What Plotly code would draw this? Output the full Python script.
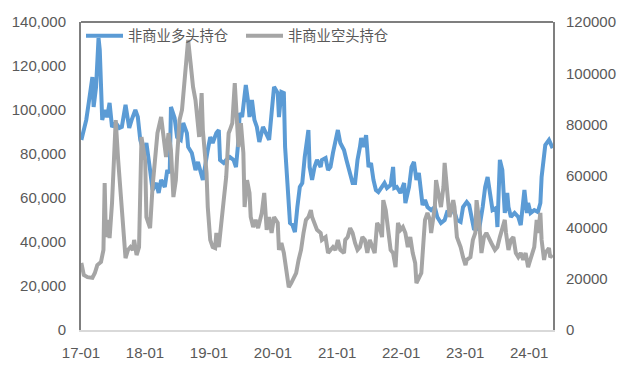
import pandas as pd
import plotly.graph_objects as go

# Weekly index (weeks since 2017-01-03) and positions
long_week = [0, 4, 6, 9, 10, 12, 14, 15, 17, 19,
             21, 23, 25, 28, 31, 33, 36, 39, 41, 44,
             46, 48, 51, 53, 56, 58, 61, 63, 65, 68,
             70, 72, 73, 76, 78, 81, 83, 86, 87, 90,
             93, 95, 99, 101, 103, 105, 107, 110, 112, 113,
             116, 118, 121, 124, 126, 128, 129, 131, 134, 136,
             137, 139, 141, 143, 145, 148, 150, 153, 155, 157,
             160, 161, 163, 165, 166, 168, 170, 172, 174, 176,
             178, 180, 182, 185, 186, 188, 190, 192, 195, 196,
             199, 201, 203, 205, 207, 209, 211, 214, 216, 218,
             221, 223, 225, 227, 228, 230, 232, 234, 236, 238,
             240, 242, 245, 247, 249, 252, 254, 255, 257, 260,
             263, 264, 267, 269, 271, 273, 275, 277, 278, 280,
             282, 285, 288, 290, 293, 296, 298, 301, 303, 306,
             309, 311, 314, 316, 318, 320, 322, 324, 327, 329,
             331, 333, 335, 338, 339, 341, 343, 345, 347, 348,
             350, 353, 356, 358, 360, 361, 363, 364, 366, 369,
             372, 374, 375, 377, 378, 381, 382, 384]
long_pos = [86400, 95500, 103200, 115000, 101400, 110500, 132700, 127300, 95500, 100000,
            96800, 103200, 92300, 94100, 91800, 92300, 102300, 91800, 95500, 100000,
            96800, 86400, 80500, 85000, 72700, 63600, 66800, 62300, 68200, 65000,
            72700, 71400, 101400, 96400, 87700, 86400, 94100, 89500, 83200, 80500,
            72700, 76400, 68200, 75900, 81800, 87700, 85000, 89500, 90900, 77300,
            75900, 77300, 78600, 77300, 74100, 86400, 98600, 96800, 111400, 103200,
            96800, 104500, 95500, 92300, 85500, 92300, 89500, 86400, 98600, 110500,
            107700, 96800, 108200, 107700, 83200, 65000, 48600, 47700, 44500, 55900,
            65000, 66800, 78600, 90900, 74100, 68200, 74100, 77300, 74100, 77300,
            78200, 72700, 74100, 80500, 85000, 90900, 85000, 81800, 77300, 72700,
            66800, 66800, 77300, 83200, 87300, 83200, 88600, 74100, 75900, 68200,
            63600, 62700, 65000, 66800, 64500, 65900, 74100, 64500, 65000, 62300,
            66800, 57700, 65000, 74100, 76400, 68200, 71400, 62300, 56800, 59100,
            55900, 54500, 55900, 51400, 48600, 50000, 53600, 53200, 55900, 50000,
            49100, 55900, 58200, 56800, 50000, 45500, 46800, 45500, 55900, 65000,
            69500, 62300, 54500, 55500, 46800, 77300, 72700, 53200, 62300, 55900,
            51400, 53200, 51400, 47700, 59100, 63600, 53200, 57700, 53200, 54500,
            53600, 57700, 69500, 80500, 84100, 86400, 85000, 82700]

short_week = [0, 2, 5, 9, 11, 13, 16, 18, 19, 20,
              22, 23, 25, 27, 28, 30, 32, 34, 36, 38,
              40, 42, 43, 45, 47, 49, 52, 53, 56, 58,
              60, 62, 65, 67, 69, 71, 73, 75, 77, 78,
              80, 82, 84, 85, 87, 89, 91, 93, 95, 96,
              98, 99, 102, 103, 105, 107, 109, 110, 112, 114,
              116, 118, 120, 121, 123, 125, 126, 128, 130, 132,
              133, 135, 137, 138, 140, 142, 144, 146, 147, 149,
              151, 153, 155, 157, 160, 161, 163, 165, 167, 169,
              171, 173, 175, 177, 179, 181, 183, 185, 187, 188,
              190, 192, 195, 196, 199, 201, 203, 205, 207, 209,
              211, 214, 215, 217, 219, 221, 223, 225, 227, 229,
              231, 233, 235, 237, 239, 241, 243, 245, 246, 248,
              250, 252, 254, 256, 258, 260, 262, 264, 266, 268,
              270, 272, 273, 275, 277, 279, 280, 282, 284, 285,
              288, 289, 291, 293, 295, 296, 298, 300, 303, 304,
              306, 309, 311, 313, 314, 317, 319, 321, 322, 324,
              326, 328, 330, 332, 334, 337, 339, 341, 343, 345,
              346, 348, 350, 352, 354, 356, 358, 360, 362, 364,
              365, 367, 369, 371, 372, 374, 375, 377, 378, 381,
              382, 384]
short_pos = [26100, 21400, 20600, 20300, 22200, 25300, 26500, 31200, 57300, 36200,
             42900, 35800, 49500, 76700, 81800, 66200, 53400, 41700, 28000, 31200,
             32300, 31200, 35100, 29200, 32300, 75200, 66200, 44000, 39700, 55700,
             65100, 76700, 83000, 75200, 67400, 76700, 70100, 51800, 58400, 67400,
             81800, 85700, 97400, 105200, 113000, 104000, 94700, 89600, 79100, 75200,
             92300, 77900, 61200, 47900, 35100, 32300, 31900, 37800, 32300, 42900,
             50600, 59600, 76700, 77900, 80600, 96200, 86900, 71300, 80600, 69000,
             47900, 58400, 53400, 44000, 40100, 42900, 39700, 42900, 45600, 53400,
             39000, 44000, 37800, 44000, 41700, 31200, 33900, 30000, 22200, 16700,
             18300, 20600, 22200, 27300, 31200, 37800, 42900, 44000, 46700, 44000,
             41700, 39000, 37800, 35100, 36200, 30000, 31200, 32300, 31200, 35100,
             31200, 30000, 35100, 36200, 39700, 37800, 33900, 31200, 32300, 36200,
             35100, 30000, 35100, 32300, 30000, 41700, 40100, 36200, 50600, 46700,
             37800, 31200, 30000, 24500, 41700, 39000, 40100, 37800, 32300, 36200,
             30000, 26100, 18300, 20600, 22200, 36200, 42900, 45600, 42900, 37800,
             47900, 58400, 53400, 47900, 55700, 65100, 54500, 44000, 50600, 47900,
             36200, 32300, 28400, 25300, 27300, 28400, 35100, 37800, 50600, 42900,
             30000, 36200, 37800, 36200, 33900, 31200, 32300, 36200, 39000, 42900,
             37800, 31200, 35100, 36200, 30000, 28400, 30000, 27300, 30000, 24500,
             26100, 30000, 32300, 42900, 37800, 45600, 35100, 27300, 30000, 31900,
             28400, 29200]

tick_dates = ["2017-01-01", "2018-01-01", "2019-01-01", "2020-01-01",
              "2021-01-01", "2022-01-01", "2023-01-01", "2024-01-01"]
tick_labels = ["17-01", "18-01", "19-01", "20-01", "21-01", "22-01", "23-01", "24-01"]

series_names = ["非商业多头持仓", "非商业空头持仓"]

start = pd.Timestamp("2017-01-03")
long_dates = [start + pd.Timedelta(weeks=w) for w in long_week]
short_dates = [start + pd.Timedelta(weeks=w) for w in short_week]

FONT = "Liberation Sans, Arial, Noto Sans CJK SC, sans-serif"
TXT = "#595959"

fig = go.Figure()
fig.add_trace(go.Scatter(x=long_dates, y=long_pos, name=series_names[0], mode="lines",
                         line=dict(color="#5B9BD5", width=4), yaxis="y"))
fig.add_trace(go.Scatter(x=short_dates, y=short_pos, name=series_names[1], mode="lines",
                         line=dict(color="#A5A5A5", width=4), yaxis="y2"))

fig.update_layout(
    width=630, height=373,
    margin=dict(l=76, r=77, t=22, b=43),
    paper_bgcolor="white", plot_bgcolor="white",
    font=dict(family=FONT, size=15, color=TXT),
    showlegend=True,
    legend=dict(orientation="h", x=0.0, y=0.955, xanchor="left", yanchor="middle",
                font=dict(size=14.3, color=TXT), bgcolor="rgba(0,0,0,0)",
                itemwidth=37, tracegroupgap=0, entrywidth=108, entrywidthmode="pixels"),
    xaxis=dict(type="date", range=["2017-01-01", "2024-05-16"],
               tickvals=tick_dates, ticktext=tick_labels,
               showgrid=False, zeroline=False, showline=True,
               linecolor="#D9D9D9", linewidth=2, ticks="",
               ticklabelstandoff=8, tickfont=dict(size=15, color=TXT)),
    yaxis=dict(range=[0, 140000], dtick=20000, tickformat=",d",
               showgrid=False, zeroline=False, showline=True,
               linecolor="#7F7F7F", linewidth=2, ticks="",
               ticklabelstandoff=10, tickfont=dict(size=15, color=TXT)),
    yaxis2=dict(range=[0, 120000], dtick=20000, tickformat="d",
                overlaying="y", side="right",
                showgrid=False, zeroline=False, showline=True,
                linecolor="#7F7F7F", linewidth=2, ticks="",
                ticklabelstandoff=8, tickfont=dict(size=15, color=TXT)),
    shapes=[dict(type="line", xref="paper", yref="paper", x0=0, x1=1, y0=1, y1=1,
                 line=dict(color="#7F7F7F", width=2))],
)

fig.write_html("out.html", config={"displayModeBar": False},
               post_script="document.body.style.margin='0';document.body.style.overflow='hidden';")
